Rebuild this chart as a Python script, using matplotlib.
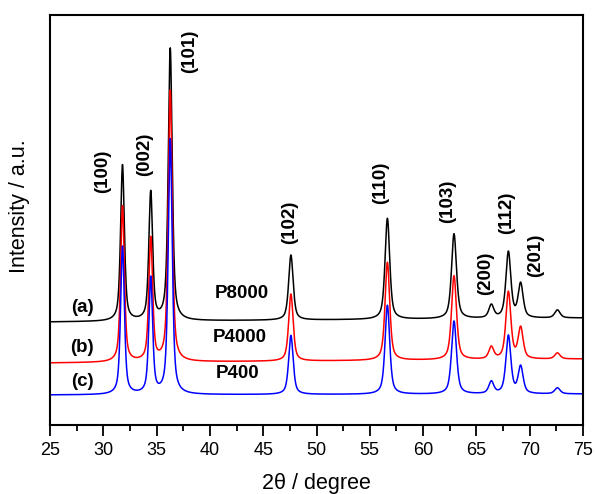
import numpy as np
import matplotlib
matplotlib.use("Agg")
import matplotlib.pyplot as plt
from matplotlib.ticker import MultipleLocator

plt.rcParams['font.family'] = ['Liberation Sans', 'DejaVu Sans']

# ---- data (arbitrary intensity units) ----
peak_pos = [31.8, 34.45, 36.28, 47.6, 56.65, 62.9, 66.4, 68.0, 69.15, 72.6]
peak_fwhm = [0.42, 0.42, 0.44, 0.50, 0.52, 0.55, 0.55, 0.55, 0.55, 0.6]
heights_a = [156, 128, 272, 65, 101, 85, 13, 66, 34, 8]     # P8000
heights_b = [156, 123, 271, 67, 98, 84, 12, 67, 31, 6]      # P4000
heights_c = [148, 116, 255, 59, 89, 73, 12, 58, 27, 6]      # P400
base_a = [103, 107]   # background at 25 and 75 deg
base_b = [62, 66]
base_c = [30, 31]

hkl_labels = ['(100)', '(002)', '(101)', '(102)', '(110)', '(103)', '(200)', '(112)', '(201)']
hkl_label_pos = [(29.9, 171), (33.9, 154), (38.1, 51), (47.5, 222), (56.0, 183),
                 (62.3, 201), (65.9, 273), (67.8, 213), (70.6, 255)]
sample_names = ['P8000', 'P4000', 'P400']
sample_tags = ['(a)', '(b)', '(c)']
colors = ['black', 'red', 'blue']
eta = 0.6  # Lorentzian fraction of the peak profile

x = np.linspace(25, 75, 5001)


def pattern(heights, base):
    y = base[0] + (base[1] - base[0]) * (x - 25) / 50.0
    for p, w, h in zip(peak_pos, peak_fwhm, heights):
        g = w / 2.0
        lor = g * g / ((x - p) ** 2 + g * g)
        gau = np.exp(-np.log(2) * ((x - p) / g) ** 2)
        y = y + h * (eta * lor + (1 - eta) * gau)
    return y


fig = plt.figure(figsize=(5.95, 4.94), dpi=100)
ax = fig.add_axes([50 / 595, (494 - 425) / 494, 533 / 595, 410 / 494])

for heights, base, c in zip([heights_a, heights_b, heights_c],
                            [base_a, base_b, base_c], colors):
    ax.plot(x, pattern(heights, base), color=c, lw=1.1)

ax.set_xlim(25, 75)
ax.set_ylim(0, 410)
ax.set_yticks([])
ax.xaxis.set_major_locator(MultipleLocator(5))
ax.xaxis.set_minor_locator(MultipleLocator(2.5))
ax.tick_params(axis='x', which='major', direction='out', length=8, width=1.3,
               labelsize=13, pad=4)
ax.tick_params(axis='x', which='minor', direction='out', length=4.5, width=1.3)
for s in ax.spines.values():
    s.set_linewidth(1.5)

ax.set_xlabel('2θ / degree', fontsize=15.5, labelpad=10)
ax.set_ylabel('Intensity / a.u.', fontsize=15.5)
ax.yaxis.set_label_coords(-0.038, 0.535)

for lab, (lx, ly) in zip(hkl_labels, hkl_label_pos):
    ax.text(lx, 425 - ly, lab, rotation=90, ha='center', va='center',
            fontsize=13.5, fontweight='bold')

name_pos = [(43.0, 425 - 294), (42.8, 425 - 337), (42.6, 425 - 373)]
tag_pos = [(28.0, 425 - 308), (28.0, 425 - 347), (28.0, 425 - 382)]
for nm, (nx, ny) in zip(sample_names, name_pos):
    ax.text(nx, ny, nm, ha='center', va='center', fontsize=13.5, fontweight='bold')
for tg, (tx, ty) in zip(sample_tags, tag_pos):
    ax.text(tx, ty, tg, ha='center', va='center', fontsize=13.5, fontweight='bold')

fig.savefig('out.png', dpi=100)
